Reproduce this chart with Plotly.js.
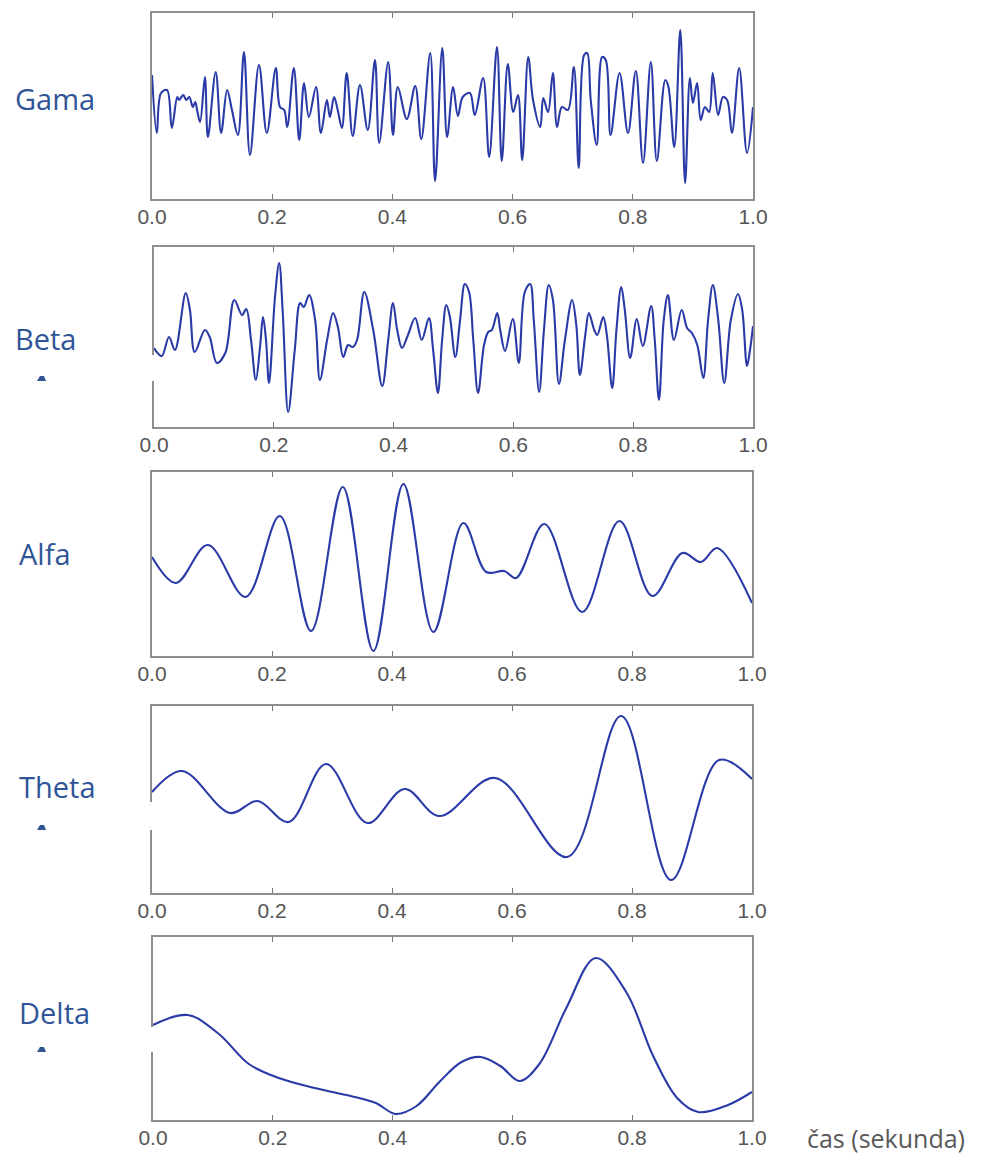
<!DOCTYPE html>
<html><head><meta charset="utf-8">
<script src="https://cdn.plot.ly/plotly-3.0.1.min.js"></script>
<style>body{margin:0;background:#fff}#chart{width:1002px;height:1160px}</style>
</head><body><div id="chart"></div>
<script>
// ---------- data (time in s, amplitude in arbitrary units) ----------
const bandNames = ["Gama", "Beta", "Alfa", "Theta", "Delta"];
const xTickVals = [0, 0.2, 0.4, 0.6, 0.8, 1.0];
const xTickText = ["0.0", "0.2", "0.4", "0.6", "0.8", "1.0"];
const xAxisLabel = "čas (sekunda)";

const gamaT = [0.000,0.008,0.015,0.025,0.033,0.042,0.045,0.052,0.057,0.062,0.068,0.072,0.075,0.080,0.088,0.093,0.106,0.115,0.125,0.133,0.143,0.153,0.163,0.178,0.191,0.206,0.213,0.220,0.225,0.236,0.245,0.253,0.261,0.273,0.281,0.291,0.296,0.303,0.309,0.316,0.324,0.334,0.346,0.359,0.371,0.378,0.393,0.401,0.409,0.424,0.438,0.448,0.463,0.471,0.483,0.491,0.501,0.509,0.517,0.529,0.537,0.551,0.561,0.574,0.582,0.592,0.601,0.609,0.616,0.626,0.634,0.646,0.651,0.659,0.667,0.674,0.682,0.692,0.702,0.710,0.719,0.724,0.730,0.740,0.749,0.755,0.763,0.778,0.792,0.805,0.817,0.830,0.840,0.854,0.859,0.869,0.879,0.887,0.895,0.900,0.907,0.913,0.920,0.927,0.933,0.942,0.950,0.957,0.965,0.977,0.990,1.000];
const gamaV = [3.1,-2.7,1.3,1.6,-2.2,0.9,0.6,1.1,0.6,0.9,-0.1,0.4,-0.4,-1.6,2.9,-3.1,3.4,-2.7,1.6,-0.4,-2.9,5.4,-4.9,4.1,-2.7,3.8,-0.1,-0.4,-2.1,3.8,-3.4,2.3,-1.1,1.9,-2.7,0.6,-1.1,0.9,-0.4,-2.2,3.3,-3.0,2.1,-2.4,4.6,-3.7,4.4,-2.9,1.9,-1.3,2.0,-3.3,5.3,-7.5,5.8,-3.1,1.9,-1.0,0.9,1.3,-0.9,2.8,-5.1,5.9,-5.5,4.2,-0.6,1.1,-5.4,4.9,0.6,-2.1,0.8,-0.6,3.3,-2.1,-0.1,-0.4,3.9,-6.2,5.1,5.3,0.6,-3.9,4.9,4.6,-2.9,3.3,-2.7,3.5,-5.7,4.4,-5.5,2.6,2.0,-4.1,7.6,-7.7,2.8,0.3,2.3,-1.4,-0.1,-0.6,3.3,-0.9,0.9,0.6,-2.7,3.8,-4.7,-0.1];

const betaT = [0.000,0.013,0.025,0.035,0.053,0.060,0.068,0.085,0.093,0.105,0.119,0.134,0.147,0.154,0.162,0.170,0.177,0.182,0.187,0.192,0.202,0.209,0.215,0.224,0.235,0.244,0.250,0.259,0.269,0.277,0.289,0.299,0.307,0.316,0.324,0.332,0.339,0.351,0.366,0.381,0.391,0.399,0.406,0.414,0.424,0.436,0.447,0.459,0.466,0.474,0.481,0.488,0.494,0.503,0.511,0.519,0.526,0.533,0.541,0.551,0.558,0.564,0.573,0.578,0.586,0.599,0.609,0.619,0.628,0.634,0.643,0.651,0.659,0.666,0.676,0.686,0.698,0.705,0.711,0.720,0.726,0.735,0.740,0.750,0.756,0.765,0.772,0.780,0.786,0.795,0.806,0.816,0.830,0.836,0.843,0.851,0.858,0.868,0.881,0.890,0.898,0.907,0.917,0.925,0.933,0.942,0.952,0.963,0.975,0.982,0.990,0.995,1.000];
const betaV = [-1.1,-1.9,0.0,-1.3,4.4,2.7,-1.5,0.7,0.0,-2.6,-1.6,3.7,2.2,2.8,-0.3,-4.3,-1.0,2.0,-0.3,-4.6,4.0,7.4,2.4,-7.5,-1.3,3.4,3.0,4.2,1.7,-4.3,-0.3,2.4,1.0,-2.0,-0.8,-1.0,-0.3,4.5,0.7,-4.9,-0.3,3.4,0.7,-1.1,0.2,1.9,-0.3,1.9,-1.3,-5.6,-0.3,3.2,2.0,-2.0,1.7,5.3,4.5,-0.3,-5.6,-0.8,0.5,0.7,2.4,0.7,-1.4,1.8,-2.6,4.5,5.3,1.7,-5.5,0.7,5.2,3.7,-4.7,-0.3,3.7,1.2,-3.8,0.2,2.4,0.7,0.2,2.0,0.2,-5.1,0.7,5.0,2.7,-2.1,1.8,-0.9,3.1,-0.3,-6.3,1.7,4.2,-0.3,2.7,0.9,0.4,-0.8,-4.1,1.7,5.2,1.7,-4.6,1.7,4.3,2.7,-2.9,-1.3,1.1];

const alfaT = [0.000,0.040,0.093,0.156,0.213,0.265,0.318,0.369,0.419,0.469,0.519,0.557,0.587,0.607,0.654,0.717,0.779,0.834,0.884,0.915,0.942,1.000];
const alfaV = [0.7,-1.9,1.9,-3.3,4.8,-6.7,7.7,-8.7,8.0,-6.8,4.1,-0.8,-0.7,-1.4,4.0,-4.8,4.3,-3.2,1.1,0.2,1.6,-3.9];

const thetaT = [0.000,0.050,0.130,0.176,0.228,0.290,0.359,0.421,0.479,0.572,0.692,0.782,0.865,0.945,1.000];
const thetaV = [0.7,2.8,-1.4,-0.2,-2.3,3.5,-2.4,1.0,-1.7,2.1,-5.8,8.3,-8.1,3.9,2.0];

const deltaT = [0.000,0.058,0.110,0.160,0.210,0.270,0.330,0.372,0.405,0.440,0.478,0.515,0.547,0.580,0.612,0.645,0.690,0.739,0.790,0.835,0.875,0.910,0.960,1.000];
const deltaV = [0.3,1.3,-0.6,-3.6,-5.0,-6.0,-6.8,-7.5,-8.6,-7.8,-5.4,-3.4,-2.9,-3.8,-5.3,-3.6,2.0,7.0,3.6,-2.8,-7.0,-8.4,-7.7,-6.4];

const seriesT = [gamaT, betaT, alfaT, thetaT, deltaT];
const seriesV = [gamaV, betaV, alfaV, thetaV, deltaV];

// ---------- layout geometry (pixels of the 1002x1160 page) ----------
const W = 1002, H = 1160;
const boxes = [ // left, right, top, bottom
  [152, 753, 13, 199],
  [154, 753, 247, 427],
  [152, 752, 472, 656],
  [152, 752, 706, 893],
  [153, 752, 937, 1120]
];
const yRanges = [[-9.3, 9.3], [-9.0, 9.0], [-9.2, 9.2], [-9.4, 9.3], [-9.2, 9.1]];
const labelPos = [[13, 98], [13, 338], [17, 553], [17, 786], [17, 1012]];
const px = x => x / W, py = y => 1 - y / H;

const lineColor = "#2a3aa6";
const traces = [];
const layout = {
  width: W, height: H, margin: {l: 0, r: 0, t: 0, b: 0},
  paper_bgcolor: "#fff", plot_bgcolor: "#fff", showlegend: false,
  annotations: [], shapes: []
};

for (let i = 0; i < 5; i++) {
  const n = i === 0 ? "" : String(i + 1);
  const [l, r, t, b] = boxes[i];
  traces.push({
    x: seriesT[i], y: seriesV[i], type: "scatter", mode: "lines",
    xaxis: "x" + n, yaxis: "y" + n,
    line: {color: lineColor, width: 2.1, shape: "spline", smoothing: 1},
    hoverinfo: "skip"
  });
  layout["xaxis" + n] = {
    domain: [px(l), px(r)], anchor: "y" + n, range: [0, 1],
    tickvals: xTickVals, ticktext: xTickText,
    ticks: "inside", ticklen: 5, tickcolor: "#777", tickwidth: 1,
    showline: true, linecolor: "#8f8f8f", linewidth: 2, mirror: "ticks",
    showgrid: false, zeroline: false, fixedrange: true, ticklabelstandoff: -2,
    tickfont: {family: "Liberation Sans Narrow, Liberation Sans, Arial", size: 21, color: "#555"}
  };
  layout["yaxis" + n] = {
    domain: [py(b), py(t)], anchor: "x" + n, range: yRanges[i],
    showticklabels: false, ticks: "", showgrid: false, zeroline: false,
    showline: true, linecolor: "#8f8f8f", linewidth: 2, mirror: true, fixedrange: true
  };
  layout.annotations.push({
    xref: "paper", yref: "paper", x: px(labelPos[i][0]), y: py(labelPos[i][1]),
    xanchor: "left", yanchor: "middle", showarrow: false,
    text: bandNames[i], font: {family: "Open Sans, Noto Sans, sans-serif", size: 29, color: "#2f5597"}
  });
}

layout.annotations.push({
  xref: "paper", yref: "paper", x: px(805), y: py(1138),
  xanchor: "left", yanchor: "middle", showarrow: false,
  text: xAxisLabel, font: {family: "Open Sans, Noto Sans, sans-serif", size: 25, color: "#595959"}
});

// white cut-outs over the left frame and small label remnants seen in the original
const cuts = [[355, 381], [802, 830], [1027, 1052]];
cuts.forEach(([y0, y1]) => {
  layout.shapes.push({type: "rect", xref: "paper", yref: "paper", layer: "above",
    x0: px(140), x1: px(158), y0: py(y1), y1: py(y0), fillcolor: "#fff", line: {width: 0}});
  layout.shapes.push({type: "path", xref: "paper", yref: "paper", layer: "above",
    path: `M ${px(37)} ${py(y1)} L ${px(40)} ${py(y1 - 5)} L ${px(44)} ${py(y1 - 5)} L ${px(46)} ${py(y1)} Z`,
    fillcolor: "#2f5597", line: {width: 0}});
});

Plotly.newPlot("chart", traces, layout, {staticPlot: true, displayModeBar: false});
</script>
</body></html>
